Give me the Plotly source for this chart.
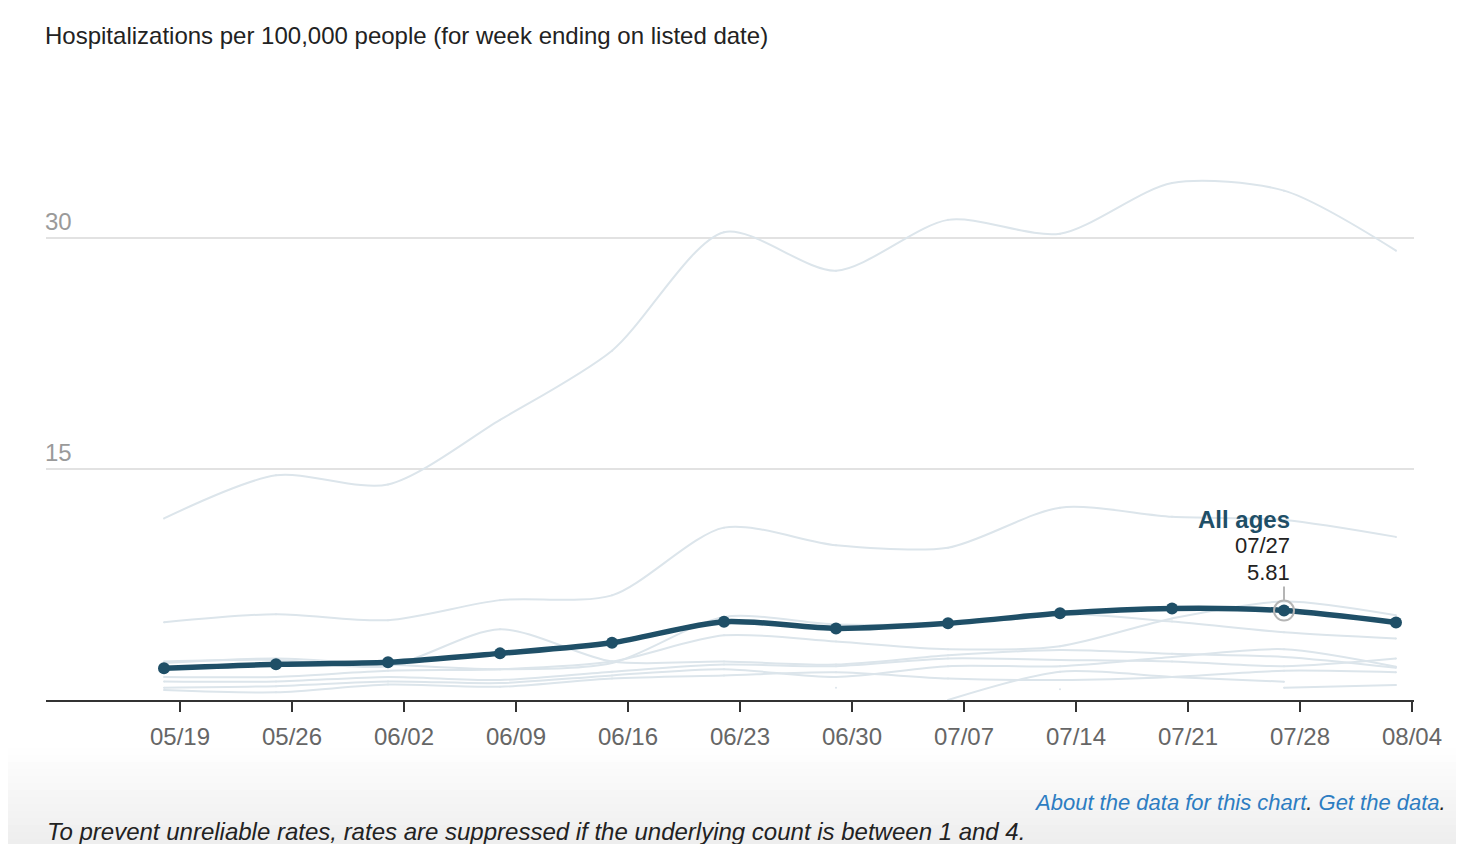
import plotly.graph_objects as go

# ---- data ----
dates = ["2024-05-18", "2024-05-25", "2024-06-01", "2024-06-08", "2024-06-15", "2024-06-22",
         "2024-06-29", "2024-07-06", "2024-07-13", "2024-07-20", "2024-07-27", "2024-08-03"]

all_ages = [2.06, 2.32, 2.45, 3.03, 3.72, 5.09, 4.65, 4.98, 5.63, 5.95, 5.81, 5.04]

age_75_plus = [11.8, 14.6, 14.0, 18.2, 22.7, 30.4, 27.9, 31.2, 30.3, 33.6, 33.1, 29.2]
age_65_74 = [5.06, 5.58, 5.19, 6.49, 6.8, 11.2, 10.06, 9.9, 12.5, 11.9, 11.7, 10.6]
age_55_64 = [2.4, 2.7, 2.3, 2.0, 2.4, 5.4, 4.9, 5.0, 5.6, 5.1, 4.4, 4.0]
age_45_54 = [2.5, 2.6, 2.2, 4.6, 2.5, 2.5, 2.3, 2.9, 3.25, 3.0, 2.8, 2.1]
age_35_44 = [1.5, 1.5, 1.9, 2.0, 2.5, 4.2, 3.8, 3.3, 3.5, 5.3, 6.4, 5.5]
age_25_34 = [1.2, 1.2, 1.5, 1.3, 1.84, 2.3, 2.2, 2.7, 2.6, 2.5, 2.2, 2.7]
age_18_24 = [0.8, 0.9, 1.2, 1.1, 1.6, 2.0, 1.5, 2.2, 2.2, 2.8, 3.3, 2.16]
age_5_17 = [0.65, 0.5, 1.0, 0.86, 1.4, 1.6, 1.8, 1.4, 1.3, 1.5, 1.9, 1.8]
age_0_4 = [None, None, None, None, None, None, None, 0.0, 1.84, 1.5, 1.19, None]
age_other = [None, None, None, None, None, None, 0.8, None, 0.7, None, 0.8, 0.97]

faint_series = [age_75_plus, age_65_74, age_55_64, age_45_54, age_35_44,
                age_25_34, age_18_24, age_5_17, age_0_4, age_other]

y_ticks = [15, 30]
x_ticks = ["2024-05-19", "2024-05-26", "2024-06-02", "2024-06-09", "2024-06-16", "2024-06-23",
           "2024-06-30", "2024-07-07", "2024-07-14", "2024-07-21", "2024-07-28", "2024-08-04"]
x_tick_labels = ["05/19", "05/26", "06/02", "06/09", "06/16", "06/23",
                 "06/30", "07/07", "07/14", "07/21", "07/28", "08/04"]

hover_date = "2024-07-27"
hover_label = "07/27"
hover_value = 5.81

title_text = "Hospitalizations per 100,000 people (for week ending on listed date)"
footer_links = ("<i><span style='color:#2d7dc2'>About the data for this chart</span>"
                "<span style='color:#222'>. </span>"
                "<span style='color:#2d7dc2'>Get the data</span>"
                "<span style='color:#222'>.</span></i>")
footer_note = "<i>To prevent unreliable rates, rates are suppressed if the underlying count is between 1 and 4.</i>"

MAIN = "#1f4f67"
FAINT = "#dce5eb"
FONT = "Liberation Sans, Arial, Helvetica, sans-serif"

# page offset (browser body margin) and plot-area geometry in window pixels
OFF = 8
PLOT_TOP, PLOT_BOTTOM, PLOT_LEFT, PLOT_RIGHT = 146, 700, 46, 1414
PH = PLOT_BOTTOM - PLOT_TOP
PW = PLOT_RIGHT - PLOT_LEFT


def py(px):
    return (PLOT_BOTTOM - px) / PH


def pxr(px):
    return (px - PLOT_LEFT) / PW


fig = go.Figure()

for s in faint_series:
    fig.add_trace(go.Scatter(
        x=dates, y=s, mode="lines+markers",
        line=dict(color=FAINT, width=2, shape="spline", smoothing=0.8),
        marker=dict(size=2, color=FAINT),
        connectgaps=False, hoverinfo="skip", showlegend=False))

fig.add_trace(go.Scatter(
    x=dates, y=all_ages, mode="lines+markers",
    line=dict(color=MAIN, width=5.5, shape="spline", smoothing=0.8),
    marker=dict(size=12, color=MAIN),
    name="All ages", showlegend=False))

# footer gradient
n_strips = 14
top_px, bot_px = 748, 846
for i in range(n_strips):
    p0 = top_px + (bot_px - top_px) * i / n_strips
    p1 = top_px + (bot_px - top_px) * (i + 1) / n_strips
    g = int(round(255 - 17 * (i + 1) / n_strips))
    fig.add_shape(type="rect", xref="paper", yref="paper",
                  x0=-0.1, x1=1.1, y0=py(p1), y1=py(p0),
                  fillcolor=f"rgb({g},{g},{g})", line=dict(width=0), layer="below")

# hover marker
fig.add_shape(type="circle", xref="x", yref="y", xsizemode="pixel", ysizemode="pixel",
              xanchor=hover_date, yanchor=hover_value, x0=-10, x1=10, y0=-10, y1=10,
              line=dict(color="#b5b5b5", width=2), fillcolor="rgba(0,0,0,0)")
fig.add_shape(type="line", xref="x", yref="y", xsizemode="pixel", ysizemode="pixel",
              xanchor=hover_date, yanchor=hover_value, x0=0, x1=0, y0=10, y1=24,
              line=dict(color="#b5b5b5", width=2))

fig.add_annotation(x=hover_date, y=hover_value, text="<b>All ages</b>", showarrow=False,
                   xanchor="right", yanchor="middle", xshift=8, yshift=91,
                   font=dict(size=24, color=MAIN, family=FONT))
fig.add_annotation(x=hover_date, y=hover_value, text=hover_label, showarrow=False,
                   xanchor="right", yanchor="middle", xshift=8, yshift=65,
                   font=dict(size=22, color="#222", family=FONT))
fig.add_annotation(x=hover_date, y=hover_value, text=f"{hover_value:.2f}", showarrow=False,
                   xanchor="right", yanchor="middle", xshift=8, yshift=38,
                   font=dict(size=22, color="#222", family=FONT))

# y tick labels above gridlines
for t in y_ticks:
    fig.add_annotation(x=0, xref="paper", y=t, yref="y", text=str(t), showarrow=False,
                       xanchor="left", yanchor="bottom", yshift=1, xshift=-3,
                       font=dict(size=24, color="#9a9a9a", family=FONT))

fig.add_annotation(x=0, xref="paper", y=py(35), yref="paper", text=title_text,
                   showarrow=False, xanchor="left", yanchor="middle", xshift=-3,
                   font=dict(size=24, color="#222", family=FONT))
fig.add_annotation(x=pxr(1448), xref="paper", y=py(802), yref="paper",
                   text=footer_links, showarrow=False, xanchor="right", yanchor="middle",
                   font=dict(size=22, color="#2d7dc2", family=FONT))
fig.add_annotation(x=0, xref="paper", y=py(831), yref="paper",
                   text=footer_note, showarrow=False, xanchor="left", yanchor="middle", xshift=-1,
                   font=dict(size=24, color="#222", family=FONT))

fig.update_layout(
    width=1464 - OFF, height=844 - OFF,
    margin=dict(l=PLOT_LEFT - OFF, r=1464 - PLOT_RIGHT, t=PLOT_TOP - OFF, b=844 - PLOT_BOTTOM),
    paper_bgcolor="white", plot_bgcolor="white",
    font=dict(family=FONT),
    hovermode=False,
    xaxis=dict(range=["2024-05-10 15:00", "2024-08-04 03:00"],
               tickvals=x_ticks, ticktext=x_tick_labels,
               ticks="outside", ticklen=10, tickwidth=2, tickcolor="#333",
               ticklabelstandoff=4,
               showline=True, linecolor="#333", linewidth=2,
               showgrid=False, zeroline=False,
               tickfont=dict(size=24, color="#666", family=FONT)),
    yaxis=dict(range=[0, 36], tickvals=y_ticks, showticklabels=False,
               showgrid=True, gridcolor="#e2e2e2", gridwidth=2,
               zeroline=False, showline=False),
)

fig.write_html("out.html")
